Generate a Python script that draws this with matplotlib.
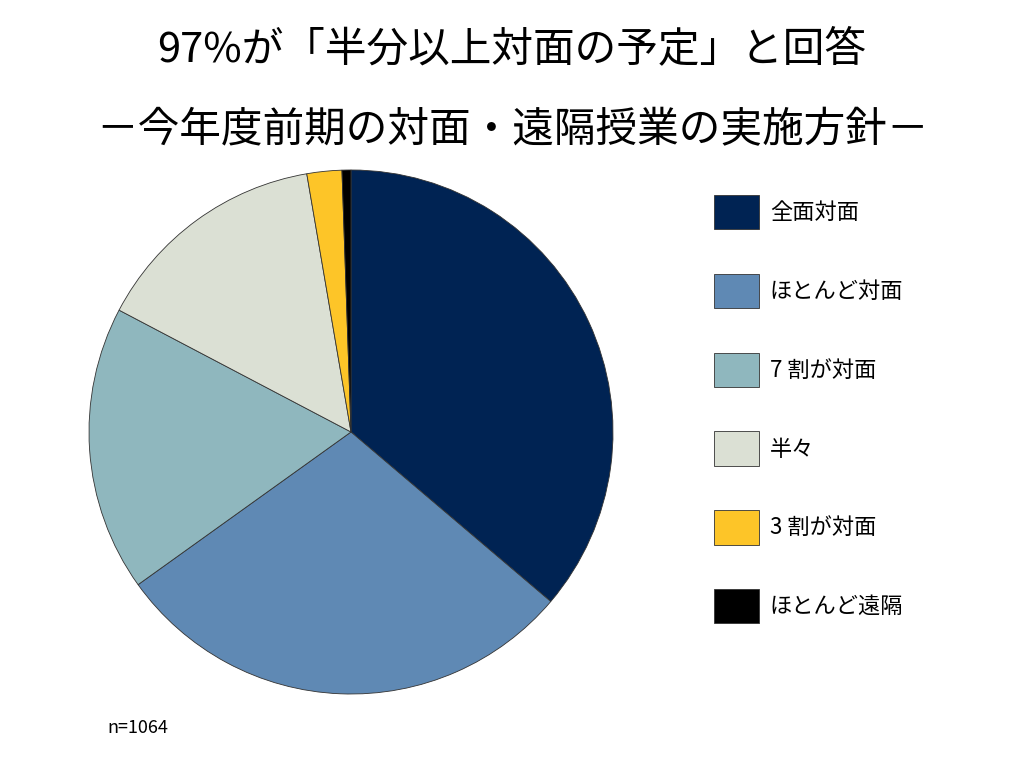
import matplotlib.pyplot as plt
from matplotlib.patches import Patch

plt.rcParams['font.family'] = 'Noto Sans CJK JP'

labels = ['全面対面', 'ほとんど対面', '7 割が対面', '半々', '3 割が対面', 'ほとんど遠隔']
values = [36.2, 28.9, 17.6, 14.6, 2.15, 0.55]
colors = ['#002353', '#5f89b4', '#8fb7be', '#dbe0d4', '#fdc528', '#000000']

fig = plt.figure(figsize=(10.24, 7.68), dpi=100)
ax = fig.add_axes([(351 - 262) / 1024, 1 - (432 + 262) / 768, 524 / 1024, 524 / 768])
ax.pie(values, colors=colors, startangle=90, counterclock=False,
       wedgeprops=dict(edgecolor='#333333', linewidth=0.6))
ax.set_xlim(-1, 1)
ax.set_ylim(-1, 1)
ax.set_aspect('equal')

fig.text(0.5, 0.935, '97%が「半分以上対面の予定」と回答', ha='center', va='center', fontsize=30)
fig.text(0.5, 0.83, '－今年度前期の対面・遠隔授業の実施方針－', ha='center', va='center', fontsize=30)
fig.text(0.105, 0.045, 'n=1064', fontsize=13)

handles = [Patch(facecolor=c, edgecolor='#333333', linewidth=0.6) for c in colors]
fig.legend(handles, labels, loc='upper left', bbox_to_anchor=(0.678, 0.772), frameon=False,
           fontsize=16, handlelength=2.0, handleheight=2.0, labelspacing=2.0, handletextpad=0.5)

fig.savefig('out.png')
